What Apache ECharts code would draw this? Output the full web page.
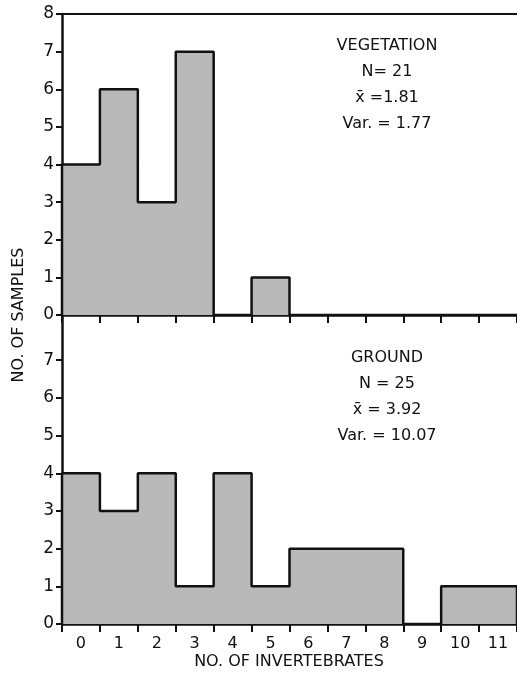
<!DOCTYPE html>
<html>
<head>
<meta charset="utf-8">
<script src="https://cdn.jsdelivr.net/npm/echarts@6/dist/echarts.min.js"></script>
<style>
  html, body { margin: 0; padding: 0; background: #fff; }
  #chart { width: 517px; height: 675px; }
</style>
</head>
<body>
<div id="chart"></div>
<script>
// Histogram data: number of samples per count of invertebrates
const bins = ['0', '1', '2', '3', '4', '5', '6', '7', '8', '9', '10', '11'];
const vegetation = [4, 6, 3, 7, 0, 1, 0, 0, 0, 0, 0, 0];
const ground = [4, 3, 4, 1, 4, 1, 2, 2, 2, 0, 1, 1];
const yTicksTop = [0, 1, 2, 3, 4, 5, 6, 7, 8];
const yTicksBottom = [0, 1, 2, 3, 4, 5, 6, 7];
const vegStats = ['VEGETATION', 'N= 21', 'x\u0304 =1.81', 'Var. = 1.77'];
const groundStats = ['GROUND', 'N = 25', 'x\u0304 = 3.92', 'Var. = 10.07'];

const FONT = '"DejaVu Sans", sans-serif';
const FILL = '#b9b9b9';
const INK = '#111';

// outline of a histogram as a step path through the bin edges
function outline(values) {
  const pts = [[0, 0]];
  values.forEach((v, i) => {
    pts.push([i, v]);
    pts.push([i + 1, v]);
  });
  pts.push([values.length, 0]);
  return pts;
}

function statText(lines, cx, y0) {
  return lines.map((t, i) => ({
    type: 'text',
    style: {
      text: t, x: cx, y: y0 + i * 26,
      textAlign: 'center', textVerticalAlign: 'middle',
      font: '16px ' + FONT, fill: INK
    }
  }));
}

const chart = echarts.init(document.getElementById('chart'));

// category axis: ticks on bin edges, labels in bin centres
const catAxis = (gridIndex, showLabels) => ({
  type: 'category', gridIndex, data: bins, boundaryGap: true, position: 'bottom',
  axisLine: { show: true, lineStyle: { color: INK, width: 2.5 } },
  axisTick: { show: true, inside: false, alignWithLabel: false, interval: 0, length: 8,
              lineStyle: { color: INK, width: 2 } },
  axisLabel: { show: showLabels, interval: 0, color: INK, fontSize: 16, fontFamily: FONT, margin: 12 },
  splitLine: { show: false }
});

// value axis used to place the histogram outline on bin edges (top frame line in upper panel)
const valAxisX = (gridIndex, showLine) => ({
  type: 'value', gridIndex, min: 0, max: bins.length, position: 'top',
  axisLine: { show: showLine, onZero: false, lineStyle: { color: INK, width: 2 } },
  axisTick: { show: false }, axisLabel: { show: false }, splitLine: { show: false }
});

const yAxis = (gridIndex, max, ticks) => ({
  type: 'value', gridIndex, min: 0, max,
  axisLine: { show: true, lineStyle: { color: INK, width: 2.5 } },
  axisTick: { show: true, length: 6, customValues: ticks, lineStyle: { color: INK, width: 2 } },
  axisLabel: { color: INK, fontSize: 17, fontFamily: FONT, margin: 8, customValues: ticks },
  splitLine: { show: false }
});

const histSeries = (xIdx, yIdx, values) => ({
  type: 'line', xAxisIndex: xIdx, yAxisIndex: yIdx, data: outline(values),
  showSymbol: false, silent: true, z: 1,
  lineStyle: { color: INK, width: 2.5 },
  areaStyle: { color: FILL, opacity: 1 }
});

const option = {
  animation: false,
  backgroundColor: '#fff',
  grid: [
    { left: 62, right: 0, top: 14, height: 301 },
    { left: 62, right: 0, top: 315, height: 309 }
  ],
  xAxis: [
    valAxisX(0, true),
    catAxis(0, false),
    valAxisX(1, false),
    catAxis(1, true)
  ],
  yAxis: [
    yAxis(0, 8, yTicksTop),
    yAxis(1, 8.2, yTicksBottom)
  ],
  series: [
    histSeries(0, 0, vegetation),
    histSeries(2, 1, ground)
  ],
  graphic: [
    ...statText(vegStats, 387, 46),
    ...statText(groundStats, 387, 358),
    {
      type: 'text', x: 19, y: 315, rotation: Math.PI / 2,
      style: {
        text: 'NO. OF SAMPLES', x: 0, y: 0,
        textAlign: 'center', textVerticalAlign: 'middle',
        font: '16px ' + FONT, fill: INK
      }
    },
    {
      type: 'text',
      style: {
        text: 'NO. OF INVERTEBRATES', x: 289, y: 662,
        textAlign: 'center', textVerticalAlign: 'middle',
        font: '16px ' + FONT, fill: INK
      }
    }
  ]
};

chart.setOption(option);
</script>
</body>
</html>
